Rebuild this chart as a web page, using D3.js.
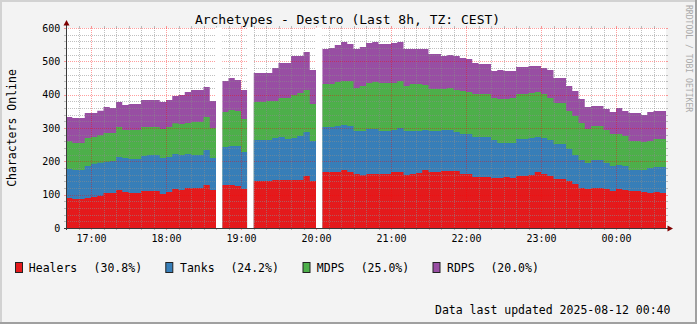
<!DOCTYPE html>
<html><head><meta charset="utf-8">
<script src="https://cdn.jsdelivr.net/npm/d3@7"></script>
<style>
body{margin:0;background:#f3f3f3}
svg{display:block}
text{font-family:"DejaVu Sans Mono",monospace}
</style>
</head><body>
<svg id="chart" width="697" height="324"></svg>
<script>
// ---------- data ----------
const startTime = Date.UTC(2025, 7, 11, 16, 40); // 16:40 CEST (label time)
const stepMinutes = 5;
const seriesNames  = ["Healers", "Tanks", "MDPS", "RDPS"];
const seriesShares = ["(30.8%)", "(24.2%)", "(25.0%)", "(20.0%)"];
const seriesColors = ["#e41a1c", "#377eb8", "#4daf4a", "#984ea3"];

const healers = [90,87,87,90,93,96,105,105,114,108, 105,105,111,111,111,102,108,117,114,120,
  120,120,129,114,null,129,129,126,117,null, 141,141,141,144,144,144,144,144,156,141,
  null,168,168,168,174,168,162,158,162,162, 162,162,168,168,159,162,165,174,168,168,
  171,171,171,162,162,153,153,153,150,150, 153,150,156,156,159,168,162,156,147,147,
  141,132,120,117,120,120,117,111,117,114, 111,111,108,105,108,105];
const tanks = [87,87,87,96,100,100,94,96,99,102, 102,102,105,108,108,108,105,105,105,102,
  99,99,105,96,null,114,117,120,111,null, 123,123,123,126,129,123,126,132,132,120,
  null,135,135,138,135,138,129,133,135,135, 129,129,126,132,132,129,126,120,123,123,
  123,123,117,120,120,120,120,120,114,105, 102,105,111,111,111,105,108,108,105,105,
  96,87,84,78,84,84,78,75,72,72, 63,63,66,75,75,78];
const mdps = [83,81,81,84,80,82,86,84,90,84, 87,87,87,84,84,87,90,92,93,93,
  99,99,99,90,null,105,108,105,99,null, 114,114,117,111,117,123,129,129,126,111,
  null,129,129,132,132,135,129,135,138,141, 144,144,141,141,135,141,141,135,126,126,
  123,126,126,129,126,129,129,129,126,132, 132,135,135,135,135,135,132,126,123,123,
  114,117,111,102,102,102,99,96,93,90, 87,87,84,81,84,84];
const rdps = [73,75,75,75,72,74,78,75,75,75, 78,78,81,81,81,81,81,82,87,93,
  96,96,90,81,null,93,96,93,87,null, 87,87,84,99,105,105,117,111,114,102,
  null,105,108,111,117,111,117,117,120,120, 117,117,120,117,111,105,105,108,105,105,
  99,99,102,99,99,93,90,90,81,87, 84,81,81,81,81,78,78,84,75,75,
  75,75,72,66,60,60,63,66,78,75, 84,84,81,87,84,84];

const yTickValues = [0, 100, 200, 300, 400, 500, 600];
const xTickLabels = ["17:00","18:00","19:00","20:00","21:00","22:00","23:00","00:00"];
const titleText = "Archetypes - Destro (Last 8h, TZ: CEST)";
const yAxisTitle = "Characters Online";
const footerText = "Data last updated 2025-08-12 00:40";
const watermarkText = "RRDTOOL / TOBI OETIKER";

// ---------- setup ----------
const W = 697, H = 324;
const L = 66, R = 666, T = 28, B = 228;
const stepMs = stepMinutes * 60000;
const seriesValues = [healers, tanks, mdps, rdps];
const n = healers.length;
const times = d3.range(n).map(i => new Date(startTime + i * stepMs));
const rows = times.map((t, i) => {
  const r = { t, ok: healers[i] != null };
  seriesNames.forEach((k, j) => r[k] = seriesValues[j][i]);
  return r;
});
const endTime = new Date(startTime + n * stepMs);

const x = d3.scaleUtc().domain([new Date(startTime), endTime]).range([L, R]);
const y = d3.scaleLinear().domain([0, 600]).range([B, T]);

const svg = d3.select("#chart");

// background and 3D border
svg.append("rect").attr("width", W).attr("height", H).attr("fill", "#f3f3f3");
svg.append("rect").attr("x", 0).attr("y", 0).attr("width", W).attr("height", 2).attr("fill", "#d2d2d2");
svg.append("rect").attr("x", 0).attr("y", 0).attr("width", 2).attr("height", H).attr("fill", "#d2d2d2");
svg.append("rect").attr("x", 0).attr("y", H - 2).attr("width", W).attr("height", 2).attr("fill", "#a0a0a0");
svg.append("rect").attr("x", W - 2).attr("y", 0).attr("width", 2).attr("height", H).attr("fill", "#a0a0a0");

// canvas
svg.append("rect").attr("x", L).attr("y", T).attr("width", R - L).attr("height", B - T).attr("fill", "#ffffff");

// stacked areas
const stacked = d3.stack().keys(seriesNames).value((d, k) => d[k] ?? 0)(rows);
const area = d3.area()
  .defined(d => d.ok)
  .x(d => x(d.t))
  .y0(y(0))
  .y1(d => y(d.v));
const layers = stacked.map((layer, j) => {
  const pts = [];
  layer.forEach((s, i) => {
    const r = rows[i];
    pts.push({ t: r.t, v: s[1], ok: r.ok });
    pts.push({ t: new Date(+r.t + stepMs), v: s[1], ok: r.ok });
  });
  return { pts, color: seriesColors[j] };
});
svg.append("g").selectAll("path").data(layers.slice().reverse()).join("path")
  .attr("d", d => area(d.pts))
  .attr("fill", d => d.color);

// grid
const gGrid = svg.append("g");
const minorY = d3.range(0, 601, 20).filter(v => v % 100 !== 0);
const majorY = yTickValues;
const minorX = x.ticks(d3.utcMinute.every(10)).filter(t => t.getUTCMinutes() !== 0 && +t > startTime && +t < +endTime);
const majorX = x.ticks(d3.utcHour.every(1));
const py = v => Math.round(y(v)) + 0.5;
const px = t => Math.round(x(t)) + 0.5;
const minorCol = "rgba(140,140,140,0.55)";
const majorCol = "rgba(255,0,0,0.38)";

function hLines(vals, col) {
  gGrid.append("g").selectAll("line").data(vals).join("line")
    .attr("x1", L).attr("x2", R).attr("y1", py).attr("y2", py)
    .attr("stroke", col).attr("stroke-dasharray", "1,1");
  gGrid.append("g").selectAll("line").data(vals).join("line")
    .attr("x1", L - 2).attr("x2", L).attr("y1", py).attr("y2", py).attr("stroke", col);
  gGrid.append("g").selectAll("line").data(vals).join("line")
    .attr("x1", R).attr("x2", R + 2).attr("y1", py).attr("y2", py).attr("stroke", col);
}
function vLines(vals, col) {
  gGrid.append("g").selectAll("line").data(vals).join("line")
    .attr("y1", T).attr("y2", B).attr("x1", px).attr("x2", px)
    .attr("stroke", col).attr("stroke-dasharray", "1,1");
  gGrid.append("g").selectAll("line").data(vals).join("line")
    .attr("y1", B).attr("y2", B + 2).attr("x1", px).attr("x2", px).attr("stroke", col);
  gGrid.append("g").selectAll("line").data(vals).join("line")
    .attr("y1", T - 2).attr("y2", T).attr("x1", px).attr("x2", px).attr("stroke", col);
}
hLines(minorY, minorCol);
vLines(minorX, minorCol);
hLines(majorY.filter(v => v > 0), majorCol);
vLines(majorX, majorCol);

// unknown data gaps (white)
svg.append("g").selectAll("rect").data(rows.filter(r => !r.ok)).join("rect")
  .attr("x", d => x(d.t)).attr("width", d => x(new Date(+d.t + stepMs)) - x(d.t))
  .attr("y", T - 0.5).attr("height", B - T + 0.5)
  .attr("fill", "#ffffff");

// axes lines
svg.append("line").attr("x1", L - 2).attr("x2", R + 3).attr("y1", B + 0.5).attr("y2", B + 0.5)
  .attr("stroke", "#3a3a3a");
svg.append("line").attr("x1", L + 0.5).attr("x2", L + 0.5).attr("y1", B + 2).attr("y2", T - 3)
  .attr("stroke", "#3a3a3a");
// arrows
svg.append("path").attr("d", `M${L + 0.5},${T - 8} L${L + 3.5},${T - 2.5} L${L - 2.5},${T - 2.5} Z`).attr("fill", "#7f0000");
svg.append("path").attr("d", `M${R + 7},${B + 0.5} L${R + 1.5},${B - 2.5} L${R + 1.5},${B + 3.5} Z`).attr("fill", "#7f0000");

// axis labels
const xAxis = d3.axisBottom(x)
  .tickValues(majorX)
  .tickFormat((d, i) => xTickLabels[i])
  .tickSize(0).tickPadding(6.4);
const gx = svg.append("g").attr("transform", `translate(0,${B})`).call(xAxis);
gx.select(".domain").remove();
gx.selectAll("text").attr("font-family", "DejaVu Sans Mono").attr("font-size", 10).attr("fill", "#000");

const yAxis = d3.axisLeft(y).tickValues(yTickValues).tickSize(0).tickPadding(6.3);
const gy = svg.append("g").attr("transform", `translate(${L + 0.5},0)`).call(yAxis);
gy.select(".domain").remove();
gy.selectAll("text").attr("font-family", "DejaVu Sans Mono").attr("font-size", 10).attr("fill", "#000");

// title
svg.append("text").attr("x", 347.5).attr("y", 24).attr("text-anchor", "middle")
  .attr("font-size", 13).attr("fill", "#000").text(titleText);

// y-axis title
svg.append("text").attr("transform", "translate(15.5,128) rotate(-90)").attr("text-anchor", "middle")
  .attr("font-size", 11.5).attr("fill", "#000").text(yAxisTitle);

// watermark
svg.append("text").attr("transform", "translate(686.3,5) rotate(90)").attr("text-anchor", "start")
  .attr("font-size", 8.1).attr("fill", "#aaaaaa").text(watermarkText);

// legend
const legendBoxX = [15.5, 165.8, 303, 433];
const legendLabelX = [28.8, 180, 316.8, 447];
const legendPctX = [93.6, 230.4, 360.7, 490.4];
const gl = svg.append("g");
seriesNames.forEach((name, j) => {
  gl.append("rect").attr("x", legendBoxX[j]).attr("y", 262.5).attr("width", 7).attr("height", 10)
    .attr("fill", seriesColors[j]).attr("stroke", "#222").attr("stroke-width", 1);
  gl.append("text").attr("x", legendLabelX[j]).attr("y", 271.8).attr("font-size", 11.5)
    .attr("fill", "#000").text(name);
  gl.append("text").attr("x", legendPctX[j]).attr("y", 271.8).attr("font-size", 11.5)
    .attr("fill", "#000").text(seriesShares[j]);
});

// footer
svg.append("text").attr("x", 435).attr("y", 314).attr("font-size", 11.5).attr("fill", "#000").text(footerText);
</script>
</body></html>
